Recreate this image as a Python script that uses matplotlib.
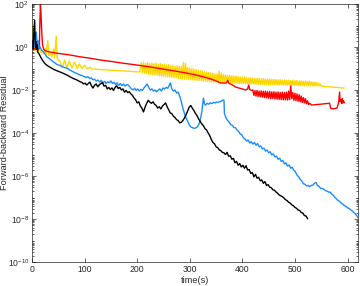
import numpy as np
import matplotlib.pyplot as plt
from matplotlib.ticker import FixedLocator, LogLocator, NullFormatter

plt.rcParams['font.family'] = ['Liberation Sans', 'DejaVu Sans']
plt.rcParams['mathtext.default'] = 'regular'

# (time in s, log10 of residual)
yellow = [
    (0, 0.3), (0.5, 0.9), (1, 0.1), (1.5, 0.7), (2, -0.1), (3, 0.5), (4, -0.15), (5, 0.3),
    (6, -0.1), (7, 0.2), (8, -0.2), (10, 0.0), (12, -0.2), (14, -0.1), (17, -0.25), (20, -0.2),
    (23, -0.3), (25, -0.05), (27, -0.35), (30, 0.3), (32, -0.4), (35, -0.3), (38, -0.45),
    (41, -0.1), (43, -0.5), (46, 0.5), (48, -0.55), (50, -0.6), (53, -0.65), (56, -0.85),
    (58, -0.95), (62, -0.6), (66, -0.97), (71, -0.65), (76, -0.98), (81, -0.7), (86, -1.0),
    (90, -0.78), (95, -1.0), (100, -0.85), (105, -1.01), (110, -0.95), (114, -1.02),
    (130, -1.05), (150, -1.08), (170, -1.11), (190, -1.14), (205, -1.16),
    (208, -0.74), (210, -1.20), (212, -0.72), (214, -1.22), (216, -0.76), (218, -1.24),
    (220, -0.73), (222, -1.26), (224, -0.77), (226, -1.28), (228, -0.75), (230, -1.30),
    (232, -0.78), (234, -1.31), (236, -0.76), (238, -1.32), (240, -0.79), (242, -1.34),
    (244, -0.77), (246, -1.35), (248, -0.81), (250, -1.36), (252, -0.80), (254, -1.38),
    (256, -0.84), (258, -1.39), (260, -0.82), (262, -1.40), (264, -0.86), (266, -1.41),
    (268, -0.85), (270, -1.43), (272, -0.89), (274, -1.44), (276, -0.87), (278, -1.46),
    (280, -0.91), (282, -1.47), (284, -0.90), (286, -1.48), (288, -0.72), (290, -1.49),
    (292, -0.76), (294, -1.50), (296, -0.95), (298, -1.51), (300, -0.98), (302, -1.52),
    (304, -1.00), (306, -1.53), (308, -1.03), (310, -1.54), (312, -1.05), (314, -1.55),
    (316, -1.08), (318, -1.56), (320, -1.10), (322, -1.57), (324, -1.12), (326, -1.58),
    (328, -1.14), (330, -1.59), (332, -1.17), (334, -1.60), (336, -1.19), (338, -1.61),
    (340, -1.21), (342, -1.61), (344, -1.23), (346, -1.62), (348, -1.26), (350, -1.63),
    (352, -1.25), (354, -1.64), (356, -1.12), (358, -1.64), (360, -1.22), (362, -1.65),
    (364, -1.28), (366, -1.65), (368, -1.30), (370, -1.66), (372, -1.32), (374, -1.67),
    (376, -1.31), (378, -1.67), (380, -1.34), (382, -1.68), (384, -1.36), (386, -1.69),
    (388, -1.35), (390, -1.69), (392, -1.38), (394, -1.70), (396, -1.39), (398, -1.70),
    (400, -1.40), (402, -1.71), (404, -1.39), (406, -1.71), (408, -1.42), (410, -1.71),
    (412, -1.44), (414, -1.72), (416, -1.43), (418, -1.72), (420, -1.45), (422, -1.73),
    (424, -1.46), (426, -1.73), (428, -1.45), (430, -1.73), (432, -1.47), (434, -1.74),
    (436, -1.48), (438, -1.74), (440, -1.47), (442, -1.75), (444, -1.49), (446, -1.75),
    (448, -1.50), (450, -1.75), (452, -1.49), (454, -1.76), (456, -1.51), (458, -1.76),
    (460, -1.50), (462, -1.76), (464, -1.52), (466, -1.77), (468, -1.53), (470, -1.77),
    (472, -1.52), (474, -1.77), (476, -1.54), (478, -1.77), (480, -1.53), (482, -1.78),
    (484, -1.55), (486, -1.78), (488, -1.54), (490, -1.78), (492, -1.56), (494, -1.78),
    (496, -1.55), (498, -1.79), (500, -1.57), (502, -1.79), (504, -1.56), (506, -1.79),
    (508, -1.58), (510, -1.79), (512, -1.57), (514, -1.80), (516, -1.59), (518, -1.80),
    (520, -1.58), (522, -1.80), (524, -1.60), (526, -1.80), (528, -1.59), (530, -1.80),
    (532, -1.62), (534, -1.81), (536, -1.63), (538, -1.81), (540, -1.65), (542, -1.81),
    (544, -1.67), (546, -1.81), (548, -1.71), (550, -1.82),
    (560, -1.84), (570, -1.86), (580, -1.88), (593, -1.91),
]

red = [
    (0, -0.1), (3, -0.05), (6, -0.12), (9, -0.08), (12, -0.1), (14, -0.05), (15, 1.2),
    (16, 2.0), (17, 1.6), (18, 1.0), (19, 0.5), (20, 0.1), (22, -0.1), (25, -0.17),
    (30, -0.21), (34, -0.23), (45, -0.28), (60, -0.33), (72, -0.37), (90, -0.45),
    (110, -0.52), (129, -0.6), (150, -0.67), (175, -0.76), (200, -0.84), (225, -0.93),
    (250, -1.03), (282, -1.16), (300, -1.24), (320, -1.35), (335, -1.45), (345, -1.53),
    (352, -1.6), (358, -1.67), (365, -1.68), (370, -1.67), (372, -1.55), (374, -1.68),
    (380, -1.75), (387, -1.86), (395, -1.92), (400, -1.95), (406, -2.0), (410, -1.95),
    (412, -1.77), (414, -1.98), (418, -2.02),
    (420, -2.00), (422, -2.25), (424, -2.03), (426, -2.28), (428, -2.02), (430, -2.30),
    (432, -2.05), (434, -2.32), (436, -2.04), (438, -2.33), (440, -2.06), (442, -2.36),
    (444, -2.05), (446, -2.37), (448, -2.08), (450, -2.38), (452, -2.07), (454, -2.40),
    (456, -2.09), (458, -2.40), (460, -2.08), (462, -2.42), (464, -2.10), (466, -2.43),
    (468, -2.09), (470, -2.44), (472, -2.11), (474, -2.45), (476, -2.10), (478, -2.46),
    (480, -2.12), (482, -2.46), (484, -2.10), (486, -2.47), (488, -2.05), (490, -2.45),
    (492, -1.81), (494, -2.40), (496, -2.12), (498, -2.48), (500, -2.15), (502, -2.50),
    (504, -2.18), (506, -2.52), (508, -2.22), (510, -2.55), (512, -2.28), (514, -2.58),
    (516, -2.35), (518, -2.60), (520, -2.40), (522, -2.64), (524, -2.50), (526, -2.68),
    (528, -2.62), (532, -2.70), (540, -2.68), (549, -2.66), (560, -2.63), (566, -2.62),
    (568, -2.85), (572, -2.88), (576, -2.86), (580, -2.84), (583, -2.60), (585, -2.10),
    (586, -2.55), (588, -2.45), (589, -2.62), (590, -2.40), (591, -2.60), (592, -2.50),
    (594, -2.58),
]

blue = [
    (0, -0.05), (1, 0.15), (2, -0.1), (3, 0.3), (4, 0.0), (5, 0.45), (6, 0.2), (7, 0.6),
    (8, 0.7), (9, 0.35), (10, 0.1), (11, 0.3), (12, -0.05), (14, 0.05), (16, -0.05),
    (18, -0.14), (21, -0.2), (24, -0.3), (28, -0.45), (32, -0.52), (36, -0.6), (40, -0.68),
    (44, -0.75), (48, -0.82), (53, -0.86), (58, -0.92), (63, -0.96), (68, -1.0), (72, -1.07),
    (78, -1.15), (84, -1.22), (91, -1.3), (97, -1.35), (103, -1.42), (106, -1.38),
    (110, -1.46), (113, -1.44), (116, -1.52), (119, -1.5), (122, -1.58), (125, -1.54),
    (129, -1.63), (132, -1.55), (135, -1.68), (138, -1.60), (141, -1.70), (144, -1.62),
    (147, -1.66), (150, -1.58), (153, -1.70), (156, -1.64), (159, -1.75), (162, -1.67),
    (165, -1.78), (168, -1.70), (171, -1.80), (174, -1.72), (177, -1.82), (180, -1.75),
    (183, -1.77), (186, -1.85), (189, -1.95), (192, -2.00), (195, -1.92), (198, -2.02),
    (201, -1.95), (204, -2.05), (207, -1.97), (210, -2.02), (213, -1.90), (216, -1.82),
    (219, -1.72), (222, -1.88), (225, -2.00), (228, -1.95), (231, -2.05), (234, -2.00),
    (237, -2.09), (240, -2.00), (243, -1.95), (246, -2.05), (249, -1.91), (252, -1.95),
    (255, -1.88), (258, -1.92), (261, -1.78), (263, -1.67), (266, -1.95), (269, -2.05),
    (272, -2.00), (275, -2.14), (278, -2.10), (281, -2.30), (284, -2.55), (287, -2.85),
    (290, -3.10), (293, -3.30), (296, -3.45), (299, -3.62), (302, -3.72), (305, -3.75),
    (308, -3.78), (311, -3.77), (314, -3.72), (317, -3.62), (320, -3.40), (323, -3.00),
    (325, -2.60), (326, -2.37), (328, -2.65), (330, -2.70), (333, -2.62), (336, -2.66),
    (339, -2.60), (342, -2.63), (345, -2.58), (348, -2.60), (351, -2.56), (354, -2.57),
    (357, -2.55), (360, -2.52), (363, -2.47), (365, -2.47), (366, -3.10), (369, -3.30),
    (372, -3.42), (375, -3.50), (378, -3.62), (381, -3.64), (384, -3.74), (387, -3.76),
    (390, -3.86), (393, -3.93), (396, -4.04), (399, -4.08), (402, -4.22), (405, -4.28),
    (408, -4.38), (411, -4.32), (414, -4.47), (417, -4.40), (420, -4.52), (423, -4.44),
    (426, -4.57), (429, -4.49), (432, -4.64), (435, -4.60), (438, -4.74), (441, -4.70),
    (444, -4.84), (447, -4.79), (450, -4.92), (453, -4.87), (456, -5.02), (459, -4.97),
    (462, -5.12), (465, -5.07), (468, -5.22), (471, -5.17), (474, -5.32), (477, -5.28),
    (480, -5.44), (483, -5.39), (486, -5.54), (489, -5.49), (492, -5.64), (495, -5.59),
    (498, -5.74), (501, -5.80), (504, -5.96), (507, -6.03), (510, -6.16), (513, -6.23),
    (516, -6.36), (519, -6.38), (522, -6.46), (525, -6.44), (528, -6.49), (531, -6.44),
    (534, -6.43), (537, -6.34), (540, -6.30), (543, -6.44), (546, -6.48), (549, -6.58),
    (552, -6.58), (555, -6.61), (558, -6.68), (561, -6.70), (564, -6.75), (567, -6.75),
    (570, -6.84), (573, -6.90), (576, -7.00), (579, -7.06), (582, -7.14), (585, -7.18),
    (588, -7.26), (591, -7.30), (594, -7.38), (597, -7.41), (600, -7.48), (603, -7.51),
    (606, -7.58), (609, -7.62), (612, -7.70), (615, -7.76), (618, -7.86), (622, -8.0),
]

black = [
    (0, 0.0), (1, 0.3), (2, -0.1), (3, 0.5), (4, 0.9), (5, 1.25), (6, 0.3), (7, -0.05),
    (8, 0.25), (9, -0.1), (10, 0.1), (11, -0.25), (13, -0.3), (16, -0.45), (20, -0.62),
    (25, -0.78), (30, -0.88), (35, -0.95), (42, -1.05), (50, -1.13), (59, -1.22),
    (66, -1.3), (72, -1.38), (78, -1.46), (85, -1.53), (91, -1.61), (95, -1.65),
    (98, -1.72), (101, -1.68), (104, -1.77), (107, -1.70), (110, -1.63), (113, -1.80),
    (116, -1.91), (119, -1.78), (122, -1.72), (125, -1.85), (128, -1.75), (131, -1.70),
    (134, -1.66), (137, -1.82), (140, -1.78), (143, -1.95), (146, -1.88), (149, -1.98),
    (152, -1.90), (155, -2.02), (158, -1.88), (161, -1.80), (164, -1.93), (167, -1.88),
    (170, -2.00), (173, -1.95), (176, -2.10), (179, -2.02), (182, -2.12), (185, -2.08),
    (188, -2.18), (191, -2.25), (194, -2.37), (197, -2.45), (200, -2.60), (203, -2.55),
    (206, -2.74), (209, -2.85), (212, -3.02), (215, -2.80), (218, -2.62), (221, -2.48),
    (224, -2.56), (227, -2.62), (230, -2.55), (233, -2.66), (236, -2.72), (239, -2.84),
    (242, -2.78), (245, -2.88), (248, -2.75), (251, -2.68), (254, -2.60), (257, -2.78),
    (260, -2.92), (263, -3.07), (266, -3.10), (269, -3.22), (272, -3.28), (275, -3.38),
    (278, -3.42), (281, -3.53), (284, -3.50), (287, -3.42), (290, -3.30), (293, -3.15),
    (296, -2.98), (299, -2.80), (302, -2.72), (305, -2.85), (308, -2.96), (311, -3.10),
    (314, -3.20), (317, -3.35), (320, -3.47), (323, -3.58), (326, -3.66), (329, -3.80),
    (332, -3.86), (335, -4.00), (338, -4.12), (341, -4.30), (344, -4.44), (347, -4.50),
    (350, -4.64), (353, -4.68), (356, -4.78), (359, -4.82), (362, -4.90), (365, -4.92),
    (368, -5.00), (371, -4.90), (374, -5.08), (377, -5.06), (380, -5.22), (383, -5.18),
    (386, -5.38), (389, -5.32), (392, -5.50), (395, -5.42), (398, -5.58), (401, -5.50),
    (404, -5.64), (407, -5.52), (410, -5.72), (413, -5.70), (416, -5.88), (419, -5.84),
    (422, -6.04), (425, -5.92), (428, -6.10), (431, -6.06), (434, -6.22), (437, -6.18),
    (440, -6.34), (443, -6.26), (446, -6.44), (449, -6.40), (452, -6.52), (455, -6.54),
    (458, -6.64), (461, -6.66), (464, -6.74), (467, -6.80), (470, -6.88), (473, -6.92),
    (476, -6.96), (479, -7.02), (482, -7.10), (485, -7.14), (488, -7.22), (491, -7.26),
    (494, -7.34), (497, -7.38), (500, -7.46), (503, -7.50), (506, -7.58), (509, -7.60),
    (512, -7.70), (515, -7.72), (518, -7.84), (521, -7.86), (524, -7.98),
]

fig = plt.figure(figsize=(3.6, 2.86), dpi=100)
ax = fig.add_axes([0.0889, 0.0839, 0.9056, 0.9021])

for data, color in [(yellow, '#ffd700'), (red, '#ff0000'), (blue, '#1a8cff'), (black, 'black')]:
    t, lv = np.array(data).T
    ax.plot(t, 10.0 ** lv, color=color, lw=1.0)

ax.set_yscale('log')
ax.set_xlim(0, 620)
ax.set_ylim(1e-10, 1e2)
ax.set_xticks(range(0, 601, 100))
ax.yaxis.set_major_locator(FixedLocator([10.0 ** k for k in range(-10, 3, 2)]))
ax.yaxis.set_minor_locator(LogLocator(base=10, subs=np.arange(1, 10), numticks=40))
ax.yaxis.set_minor_formatter(NullFormatter())
ax.tick_params(which='both', direction='in', top=True, right=True, colors='#262626',
               labelsize=6.2, width=0.5)
ax.tick_params(which='major', length=3, pad=2)
ax.tick_params(which='minor', length=1.5)
for s in ax.spines.values():
    s.set_linewidth(0.5)
    s.set_color('#262626')

ax.set_xlabel('time(s)', fontsize=6.6, labelpad=1.5, color='#262626')
ax.set_ylabel('Forward-backward Residual', fontsize=6.6, color='#262626')
ax.yaxis.set_label_coords(-0.072, 0.5)

fig.savefig('out.png', dpi=100)
